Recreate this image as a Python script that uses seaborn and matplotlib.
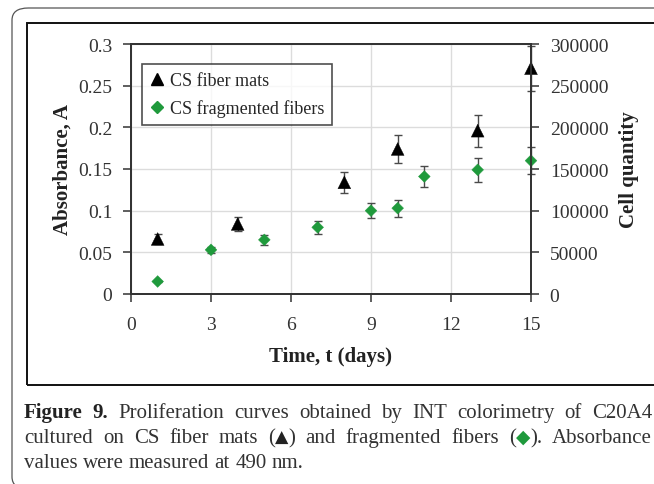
import numpy as np
import pandas as pd
import matplotlib
matplotlib.use("Agg")
import matplotlib.pyplot as plt
import seaborn as sns
from matplotlib.patches import FancyBboxPatch, Rectangle
from matplotlib.lines import Line2D

# ---- data ----
mats_days = [1, 4, 8, 10, 13, 15]
mats_abs = [0.066, 0.084, 0.134, 0.174, 0.196, 0.271]
mats_err = [0.006, 0.008, 0.013, 0.017, 0.019, 0.027]

frag_days = [1, 3, 5, 7, 9, 10, 11, 13, 15]
frag_abs = [0.015, 0.053, 0.065, 0.080, 0.100, 0.103, 0.141, 0.149, 0.160]
frag_err = [0.001, 0.004, 0.006, 0.008, 0.009, 0.010, 0.013, 0.014, 0.016]

series_names = ["CS fiber mats", "CS fragmented fibers"]
x_ticks = [0, 3, 6, 9, 12, 15]
y_ticks = [0, 0.05, 0.1, 0.15, 0.2, 0.25, 0.3]
y_tick_labels = ["0", "0.05", "0.1", "0.15", "0.2", "0.25", "0.3"]
y2_ticks = [0, 50000, 100000, 150000, 200000, 250000, 300000]
y2_tick_labels = ["0", "50000", "100000", "150000", "200000", "250000", "300000"]

df = pd.DataFrame({
    "day": mats_days + frag_days,
    "abs": mats_abs + frag_abs,
    "err": mats_err + frag_err,
    "series": [series_names[0]] * len(mats_days) + [series_names[1]] * len(frag_days),
})

GREEN = "#1f9a3c"
SERIF = ["Liberation Serif", "DejaVu Sans"]

sns.set_theme(style="white")
plt.rcParams["font.family"] = SERIF

W, H = 654, 485
fig = plt.figure(figsize=(W / 100, H / 100), dpi=100)

# outer frames
outer = FancyBboxPatch((12 / W, 1 - 490 / H), (700 - 12) / W, (490 - 9) / H,
                       boxstyle="round,pad=0,rounding_size=0.025",
                       transform=fig.transFigure, fill=False,
                       edgecolor="#555555", linewidth=0.9)
fig.patches.append(outer)
inner = Rectangle((27 / W, 1 - 386 / H), (700 - 27) / W, (386 - 24) / H,
                  transform=fig.transFigure, fill=False,
                  edgecolor="#111111", linewidth=1.4)
fig.patches.append(inner)

ax = fig.add_axes([131 / W, 1 - 295 / H, 400 / W, 250 / H])

palette = {series_names[0]: "black", series_names[1]: GREEN}
markers = {series_names[0]: "^", series_names[1]: "D"}
sizes = {series_names[0]: 85, series_names[1]: 36}

for name, g in df.groupby("series"):
    ax.errorbar(g["day"], g["abs"], yerr=g["err"], fmt="none",
                ecolor="#4a4a4a", elinewidth=1.0, capsize=3, capthick=1.0,
                zorder=2, clip_on=False)

sns.scatterplot(data=df, x="day", y="abs", hue="series", style="series",
                size="series", sizes=sizes,
                palette=palette, markers=markers, linewidth=0.3,
                edgecolor="face", ax=ax, zorder=3, legend=False, clip_on=False)

ax.set_xlim(0, 15)
ax.set_ylim(0, 0.3)
ax.set_xticks(x_ticks)
ax.set_xticklabels([str(t) for t in x_ticks])
ax.set_yticks(y_ticks)
ax.set_yticklabels(y_tick_labels)
ax.grid(True, color="#dcdcdc", linewidth=1.0)
ax.set_axisbelow(True)
for s in ax.spines.values():
    s.set_color("#333333")
    s.set_linewidth(1.3)
ax.tick_params(axis="both", which="major", direction="out", length=5.5, width=1.1,
               color="#333333", labelsize=14, labelcolor="#333333",
               left=True, bottom=True)
ax.tick_params(axis="y", pad=8)
ax.tick_params(axis="x", pad=10)
ax.set_xlabel("Time, t (days)", fontsize=15, fontweight="bold", color="#222222", labelpad=10)
ax.set_ylabel("Absorbance, A", fontsize=15, fontweight="bold", color="#222222", labelpad=4)

ax2 = ax.twinx()
ax2.set_ylim(0, 300000)
ax2.set_yticks(y2_ticks)
ax2.set_yticklabels(y2_tick_labels)
ax2.tick_params(axis="y", direction="out", length=5.5, width=1.1, color="#333333",
                labelsize=14, labelcolor="#333333", pad=8, right=True)
for s in ax2.spines.values():
    s.set_color("#333333")
    s.set_linewidth(1.3)
ax2.set_ylabel("Cell quantity", fontsize=15, fontweight="bold", color="#222222", labelpad=8)
ax2.grid(False)

handles = [
    Line2D([], [], linestyle="none", marker="^", color="black", markersize=8.5),
    Line2D([], [], linestyle="none", marker="D", color=GREEN, markersize=6),
]
leg = ax.legend(handles, series_names, loc="upper left", bbox_to_anchor=(0.0275, 0.92),
                borderaxespad=0, frameon=True, fancybox=False, edgecolor="#222222",
                prop={"family": SERIF, "size": 13}, handlelength=0.8, handletextpad=0.3,
                labelspacing=0.55, borderpad=0.45)
leg.get_frame().set_linewidth(1.2)

# ---- caption, justified between x0 and x1 ----
cap_size = 15
REG = dict(fontsize=cap_size, color="#333333")
BOLD = dict(fontsize=cap_size, color="#222222", fontweight="bold")
TRI = dict(fontsize=cap_size - 2.5, color="#222222", family=["DejaVu Sans"])
DIA = dict(fontsize=cap_size - 1.5, color=GREEN, family=["DejaVu Sans"])

def words(s, style=REG):
    return [[(w, style)] for w in s.split()]

line1 = [[("Figure", BOLD)], [("9.", BOLD)]] + words(
    "Proliferation curves obtained by INT colorimetry of C20A4")
line2 = words("cultured on CS fiber mats") + [[("(", REG), ("\u25B2", TRI), (")", REG)]] + \
    words("and fragmented fibers") + [[("(", REG), ("\u25C6", DIA), (").", REG)]] + \
    words("Absorbance")
line3 = words("values were measured at 490 nm.")

x0, x1 = 24, 652
renderer = fig.canvas.get_renderer()

def text_width(s, st):
    t = fig.text(0, 0, s, **st)
    w = t.get_window_extent(renderer).width
    t.remove()
    return w

def place_line(line, baseline_px, justify):
    texts = []
    for word in line:
        segs = []
        for txt, st in word:
            t = fig.text(0, 0, txt, va="baseline", ha="left", **st)
            segs.append(t)
        texts.append(segs)
    widths = [[t.get_window_extent(renderer).width for t in segs] for segs in texts]
    total = sum(sum(w) for w in widths)
    sw = text_width("a a", REG) - 2 * text_width("a", REG)
    gap = (x1 - x0 - total) / (len(texts) - 1) if justify else sw
    x = x0
    for segs, ws in zip(texts, widths):
        for t, w in zip(segs, ws):
            t.set_position((x / W, 1 - baseline_px / H))
            x += w
        x += gap

place_line(line1, 418, True)
place_line(line2, 443, True)
place_line(line3, 468, False)

fig.savefig("out.png", dpi=100)
